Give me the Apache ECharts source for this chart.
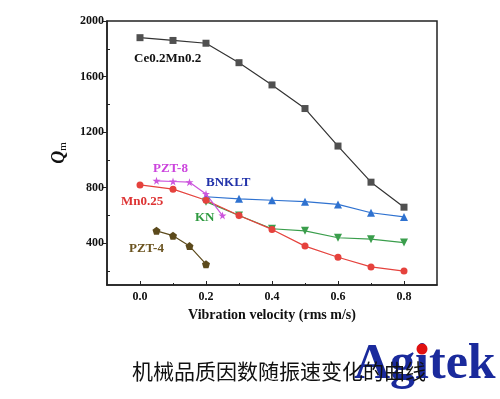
<!DOCTYPE html>
<html>
<head>
<meta charset="utf-8">
<script src="https://cdn.jsdelivr.net/npm/echarts@6/dist/echarts.min.js"></script>
<style>
  html, body { margin: 0; padding: 0; background: #fff; }
  #main { width: 500px; height: 399px; }
</style>
</head>
<body>
<div id="main"></div>
<script>
// 数据
const vFull = [0.0, 0.1, 0.2, 0.3, 0.4, 0.5, 0.6, 0.7, 0.8];
const vHigh = [0.2, 0.3, 0.4, 0.5, 0.6, 0.7, 0.8];
const vPzt8 = [0.05, 0.1, 0.15, 0.2, 0.25];
const vPzt4 = [0.05, 0.1, 0.15, 0.2];

const qCeMn = [1880, 1860, 1840, 1700, 1540, 1370, 1100, 840, 660];
const qMn025 = [820, 790, 710, 600, 500, 380, 300, 230, 200];
const qKN = [700, 600, 505, 490, 440, 430, 405];
const qBNKLT = [735, 720, 710, 700, 680, 620, 590];
const qPzt8 = [850, 845, 840, 755, 600];
const qPzt4 = [490, 455, 380, 250];

const xLabels = [0.0, 0.2, 0.4, 0.6, 0.8];
const xMinor = [0.1, 0.3, 0.5, 0.7];
const yLabels = [400, 800, 1200, 1600, 2000];
const yMinor = [200, 600, 1000, 1400, 1800];

function pairs(xs, ys) {
  return xs.map((x, i) => [x, ys[i]]);
}

const serif = '"Liberation Serif", "DejaVu Serif", serif';
const axisColor = '#222';

function line(name, xs, ys, color, symbol, size, lineColor) {
  return {
    name: name,
    type: 'line',
    data: pairs(xs, ys),
    symbol: symbol,
    symbolSize: size,
    itemStyle: { color: color },
    lineStyle: { color: lineColor || color, width: 1.2 },
    z: 3
  };
}

function label(text, x, y, color) { // 曲线名称
  return {
    type: 'text', left: x, top: y,
    style: { text: text, fill: color, font: 'bold 13px ' + serif }
  };
}

const chart = echarts.init(document.getElementById('main'), null, { renderer: 'canvas' });

chart.setOption({
  backgroundColor: '#fff',
  animation: false,
  grid: { left: 107, top: 21, right: 63, bottom: 114, show: true, borderColor: axisColor, borderWidth: 1.5 },
  xAxis: [{
    type: 'value', min: -0.1, max: 0.9,
    name: 'Vibration velocity (rms m/s)',
    nameLocation: 'middle', nameGap: 20,
    nameTextStyle: { fontFamily: serif, fontWeight: 'bold', fontSize: 14, color: '#111' },
    axisLine: { onZero: false, lineStyle: { color: axisColor, width: 1.5 } },
    axisTick: { inside: true, length: 4, customValues: xLabels, lineStyle: { color: axisColor } },
    axisLabel: { customValues: xLabels, fontFamily: serif, fontWeight: 'bold', fontSize: 12, color: '#111', margin: 6,
      formatter: v => v.toFixed(1) },
    splitLine: { show: false }
  }, { // 次刻度
    type: 'value', min: -0.1, max: 0.9, position: 'bottom',
    axisLine: { show: false, onZero: false },
    axisTick: { inside: true, length: 2, customValues: xMinor, lineStyle: { color: axisColor } },
    axisLabel: { show: false },
    splitLine: { show: false }
  }],
  yAxis: [{
    type: 'value', min: 100, max: 2000,
    name: '{q|Q}{s|m}',
    nameLocation: 'middle', nameGap: 30, nameRotate: 90,
    nameTextStyle: {
      rich: {
        q: { fontFamily: serif, fontStyle: 'italic', fontWeight: 'bold', fontSize: 18, color: '#111' },
        s: { fontFamily: serif, fontSize: 11, color: '#111', padding: [8, 0, 0, 0] }
      }
    },
    axisLine: { show: true, onZero: false, lineStyle: { color: axisColor, width: 1.5 } },
    axisTick: { show: true, length: 4, customValues: yLabels, lineStyle: { color: axisColor } },
    axisLabel: { customValues: yLabels, fontFamily: serif, fontWeight: 'bold', fontSize: 12, color: '#111', margin: 3,
      formatter: v => String(v) },
    splitLine: { show: false }
  }, { // 次刻度
    type: 'value', min: 100, max: 2000, position: 'left',
    axisLine: { show: false, onZero: false },
    axisTick: { show: true, inside: true, length: 3, customValues: yMinor, lineStyle: { color: axisColor } },
    axisLabel: { show: false },
    splitLine: { show: false }
  }],
  series: [
    line('Ce0.2Mn0.2', vFull, qCeMn, '#505050', 'rect', 7, '#333'),
    line('BNKLT', vHigh, qBNKLT, '#2f72d0', 'triangle', 8),
    line('KN', vHigh, qKN, '#3a9e4c', 'path://M0,0 L10,0 L5,9 Z', 8),
    line('Mn0.25', vFull, qMn025, '#e5423d', 'circle', 7),
    line('PZT-8', vPzt8, qPzt8, '#cc55dd', 'path://M5,0 L6.2,3.6 L10,3.6 L6.9,5.8 L8.1,9.5 L5,7.2 L1.9,9.5 L3.1,5.8 L0,3.6 L3.8,3.6 Z', 8),
    line('PZT-4', vPzt4, qPzt4, '#5c4a1c', 'path://M5,0 L10,3.6 L8.1,9.5 L1.9,9.5 L0,3.6 Z', 8)
  ],
  graphic: [
    label('Ce0.2Mn0.2', 134, 52, '#111'),
    label('PZT-8', 153, 162, '#cc44dd'),
    label('BNKLT', 206, 176, '#2233aa'),
    label('Mn0.25', 121, 195, '#dd3333'),
    label('KN', 195, 211, '#2f9a40'),
    label('PZT-4', 129, 242, '#6b5420'),
    {
      type: 'text', left: 354, top: 340, z: 10,
      style: { text: 'Agitek', fill: '#1a2a9c', font: 'bold 50px ' + serif }
    },
    {
      type: 'circle', shape: { cx: 422, cy: 349, r: 5.5 }, z: 11,
      style: { fill: '#e01010' }
    },
    {
      type: 'text', left: 132, top: 361, z: 12,
      style: { text: '机械品质因数随振速变化的曲线', fill: '#111', font: '21px "Noto Sans CJK SC", sans-serif' }
    }
  ]
});
</script>
</body>
</html>
